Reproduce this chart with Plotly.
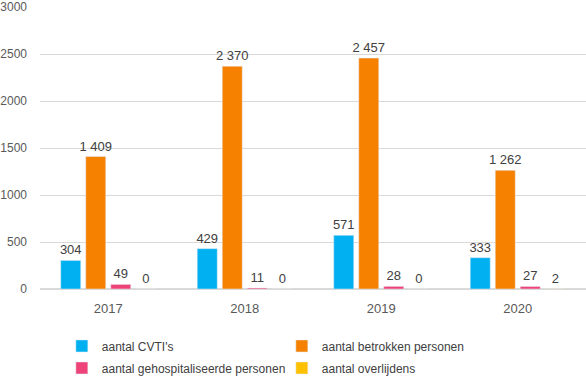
import plotly.graph_objects as go

years = ["2017", "2018", "2019", "2020"]
series_names = ["aantal CVTI's", "aantal betrokken personen",
                "aantal gehospitaliseerde personen", "aantal overlijdens"]
cvti = [304, 429, 571, 333]
betrokken = [1409, 2370, 2457, 1262]
gehospitaliseerd = [49, 11, 28, 27]
overlijdens = [0, 0, 0, 2]
colors = ["#00B0F0", "#F68100", "#EE4379", "#FFC000"]
legend_rows = ["legend", "legend", "legend2", "legend2"]

fig = go.Figure()
for name, vals, col, lg in zip(series_names, [cvti, betrokken, gehospitaliseerd, overlijdens],
                               colors, legend_rows):
    fig.add_trace(go.Bar(
        x=years, y=vals, name=name, marker_color=col, legend=lg,
        texttemplate="%{y:,}", textposition="outside", cliponaxis=False,
        constraintext="none",
        textfont=dict(size=13, color="#404040", family="Liberation Sans"),
    ))

leg_common = dict(orientation="h", xanchor="left", yanchor="middle",
                  entrywidth=175, entrywidthmode="pixels",
                  font=dict(size=12, color="#404040"), itemwidth=30,
                  borderwidth=0, bgcolor="rgba(0,0,0,0)")

fig.update_layout(
    width=586, height=378,
    margin=dict(l=40, r=0, t=7, b=89, autoexpand=False),
    separators=", ",
    barmode="group", bargap=0.267, bargroupgap=0.2,
    plot_bgcolor="white", paper_bgcolor="white",
    font=dict(family="Liberation Sans", color="#595959", size=12),
    showlegend=True,
    legend=dict(x=0.04, y=-0.202, **leg_common),
    legend2=dict(x=0.04, y=-0.280, **leg_common),
)
fig.update_yaxes(range=[0, 3000], dtick=500, gridcolor="#D9D9D9", gridwidth=1,
                 zeroline=True, zerolinecolor="#D9D9D9", showline=False, automargin=False,
                 tickfont=dict(size=12, color="#595959"), ticklabelstandoff=12)
fig.update_xaxes(showline=False, automargin=False,
                 tickfont=dict(size=13, color="#595959"), ticklabelstandoff=10)

fig.write_html("out.html", config={"displayModeBar": False},
               post_script="document.body.style.margin='0';")
